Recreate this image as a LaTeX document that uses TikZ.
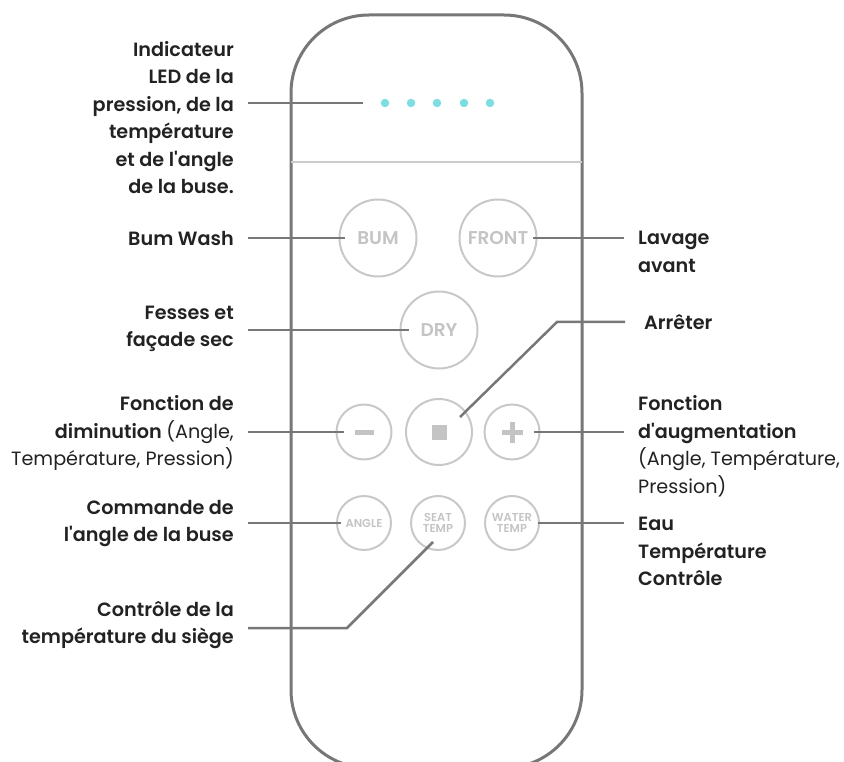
\documentclass[tikz,border=0pt]{standalone}
\usepackage{fontspec}
\setmainfont{Poppins}[BoldFont={Poppins SemiBold}]
\definecolor{shell}{RGB}{119,119,119}
\definecolor{divider}{RGB}{204,204,204}
\definecolor{btnline}{RGB}{200,200,200}
\definecolor{btntext}{RGB}{196,196,196}
\definecolor{ledcyan}{RGB}{124,222,224}
\definecolor{lbltext}{RGB}{34,34,34}
\newcommand{\apos}{\textquotesingle}
\tikzset{
  btn/.style={circle, draw=btnline, line width=2pt, inner sep=0pt,
    text=btntext, font=\bfseries\fontsize{18.5}{18.5}\selectfont},
  tinybtn/.style={btn, minimum size=54pt, align=center,
    font=\bfseries\fontsize{11.5}{11.5}\selectfont},
  lbl/.style={inner sep=0pt, text=lbltext,
    font=\bfseries\fontsize{19.2}{27.5}\selectfont},
  leader/.style={draw=shell, line width=2.5pt},
}
\begin{document}
\begin{tikzpicture}[x=1pt, y=-1pt]
  \useasboundingbox (0,0) rectangle (844,762);
  % Remote body
  \draw[shell, line width=3pt, rounded corners=78pt] (291,15) rectangle (582,768);
  % Divider under the LED row
  \draw[divider, line width=2pt] (291,162) -- (582,162);
  % LED dots
  \foreach \i/\x in {1/385,2/411,3/437,4/464,5/490}
    \node[circle, fill=ledcyan, inner sep=0pt, minimum size=8.5pt] (led\i) at (\x,103) {};
  % Buttons
  \node[btn, minimum size=77pt] (bum) at (378,238) {BUM};
  \node[btn, minimum size=77pt] (front) at (498,238) {FRONT};
  \node[btn, minimum size=77pt] (dry) at (439,330) {DRY};
  \node[btn, minimum size=55pt] (minus) at (364,432) {};
  \node[btn, minimum size=66pt] (stop) at (439,432) {};
  \node[btn, minimum size=55pt] (plus) at (512,432) {};
  \node[tinybtn] (angle) at (364,523) {ANGLE};
  \node[tinybtn] (seat) at (438,523) {SEAT\\TEMP};
  \node[tinybtn] (water) at (512,523) {WATER\\TEMP};
  % Button symbols
  \fill[btntext] ([shift={(-9.5,-2.5)}]minus.center) rectangle ++(19,5);
  \fill[btntext] ([shift={(-7.5,-7.5)}]stop.center) rectangle ++(15,15);
  \fill[btntext] ([shift={(-10.5,-2.5)}]plus.center) rectangle ++(21,5);
  \fill[btntext] ([shift={(-2.5,-10.5)}]plus.center) rectangle ++(5,21);
  % Left labels
  \node[lbl, anchor=east, align=right] (ledlbl) at (234,117.5)
    {Indicateur\\LED de la\\pression, de la\\température\\et de l\apos angle\\de la buse.};
  \node[lbl, anchor=east, align=right] (bumlbl) at (234,238) {Bum Wash};
  \node[lbl, anchor=east, align=right] (drylbl) at (234,329) {Fesses et\\façade sec};
  \node[lbl, anchor=east, align=right] (minuslbl) at (234,433)
    {Fonction de\\diminution {\mdseries (Angle,}\\{\mdseries Température, Pression)}};
  \node[lbl, anchor=east, align=right] (anglelbl) at (234,523.5)
    {Commande de\\l\apos angle de la buse};
  \node[lbl, anchor=east, align=right] (seatlbl) at (234,625)
    {Contrôle de la\\température du siège};
  % Right labels
  \node[lbl, anchor=west, align=left] (frontlbl) at (638,252) {Lavage\\avant};
  \node[lbl, anchor=west, align=left] (stoplbl) at (644,322) {Arrêter};
  \node[lbl, anchor=west, align=left] (pluslbl) at (638,446.5)
    {Fonction\\d\apos augmentation\\{\mdseries (Angle, Température,}\\{\mdseries Pression)}};
  \node[lbl, anchor=west, align=left] (waterlbl) at (638,551.5)
    {Eau\\Température\\Contrôle};
  % Leader lines
  \draw[leader, shorten <=14pt, shorten >=18pt] (ledlbl.east |- led1) -- (led1);
  \draw[leader, shorten <=14pt, shorten >=-6pt] (bumlbl.east |- bum.west) -- (bum.west);
  \draw[leader, shorten <=-5pt, shorten >=14pt] (front.east) -- (frontlbl.west |- front.east);
  \draw[leader, shorten <=14pt, shorten >=-9pt] (drylbl.east |- dry.west) -- (dry.west);
  \draw[leader, shorten <=14pt, shorten >=-8pt] (minuslbl.east |- minus.west) -- (minus.west);
  \draw[leader, shorten <=-7pt, shorten >=14pt] (plus.east) -- (pluslbl.west |- plus.east);
  \draw[leader, shorten <=14pt, shorten >=-5pt] (anglelbl.east |- angle.west) -- (angle.west);
  \draw[leader, shorten <=-2pt, shorten >=14pt] (water.east) -- (waterlbl.west |- water.east);
  % Stop leader with bend
  \coordinate (stopA) at ([shift={(21,-15)}]stop.center);
  \coordinate (stopB) at (557,322);
  \draw[leader, shorten >=19pt] (stopA) -- (stopB) -- (stoplbl.west |- stopB);
  % Seat temp leader with bend
  \coordinate (seatA) at ([shift={(-5,19)}]seat.center);
  \coordinate (seatB) at (347,628);
  \draw[leader, shorten >=14pt] (seatA) -- (seatB) -- (seatlbl.east |- seatB);
\end{tikzpicture}
\end{document}
